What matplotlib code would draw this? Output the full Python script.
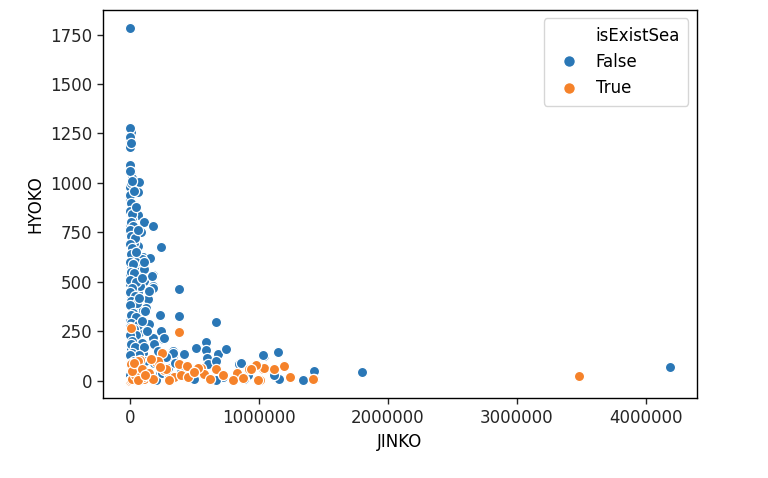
import matplotlib.pyplot as plt
from matplotlib.lines import Line2D

# JINKO / HYOKO for municipalities without sea (isExistSea = False)
JINKO_FALSE = [
    1000, 4185000, 1800000, 1430000, 1340000, 1040000, 1150000, 1120000, 1160000,
    8000, 0, 0, 0, 0, 8000, 15000, 70000, 0, 62000, 0, 15000, 0, 62000, 15000,
    109000, 179000, 0, 85000, 0, 8000, 62000, 241000, 23000, 101000, 155000,
    93000, 8000, 85000, 179000, 8000, 109000, 8000, 179000, 381000, 62000, 8000,
    140000, 31000, 124000, 233000, 381000, 70000, 23000, 148000, 668000, 241000,
    70000, 8000, 179000, 256000, 70000, 186000, 8000, 513000, 591000, 334000,
    591000, 684000, 746000, 101000, 8000, 186000, 334000, 1033000, 412000,
    847000, 8000, 23000, 148000, 490000, 723000, 917000, 862000, 598000, 606000,
    668000, 497000, 668000, 886000, 1119000, 233000, 396000, 295000, 155000,
    420000, 264000, 31000, 109000, 0, 171000, 179000, 78000, 0, 148000, 31000,
    85000, 23000, 0, 70000, 334000,
    3000, 5000, 2000, 10000, 4000, 20000, 6000, 25000, 3000, 12000, 40000, 2000,
    18000, 6000, 45000, 2000, 22000, 10000, 35000, 4000, 50000, 15000, 2000,
    40000, 8000, 55000, 3000, 25000, 5000, 45000, 12000, 60000, 3000, 30000,
    8000, 50000, 2000, 20000, 90000, 5000, 40000, 110000, 15000, 70000, 3000,
    30000, 120000, 6000, 50000, 15000, 80000, 2000, 30000, 100000, 60000, 10000,
    200000, 250000, 300000, 350000, 280000, 220000, 130000, 95000, 115000,
    70000, 90000, 110000, 50000, 60000, 45000, 30000, 20000, 2000, 5000,
]
HYOKO_FALSE = [
    1785, 68, 41, 46, 5, 122, 143, 46, 10,
    1255, 1280, 1219, 1183, 1091, 1056, 1025, 1005, 979, 954, 923, 887, 852, 836, 816,
    801, 780, 775, 750, 745, 709, 683, 678, 658, 627, 622,
    617, 581, 566, 536, 520, 505, 479, 479, 464, 444, 418,
    413, 362, 367, 332, 326, 316, 301, 286, 296, 250,
    240, 214, 214, 209, 189, 184, 158, 163, 194, 148,
    153, 133, 158, 138, 112, 87, 112, 128, 61,
    82, 56, 10, 15, 20, 20, 26, 87, 112, 82,
    97, 10, 5, 10, 26, 31, 41, 61, 20,
    133, 214, 694, 566, 541, 530, 469, 479, 490, 454, 403,
    352, 357, 301, 199, 138,
    1060, 1000, 940, 900, 860, 840, 800, 780, 760, 730, 720, 690,
    670, 640, 600, 600, 590, 550, 545, 510, 500, 470, 450,
    430, 400, 390, 380, 340, 330, 320, 290, 280, 270, 260,
    240, 230, 230, 200, 190, 185, 170, 170, 140, 130, 130,
    100, 100, 90, 70, 60, 40, 30, 30, 5, 10, 5,
    5, 40, 20, 90, 120, 150, 250, 300, 350,
    420, 520, 600, 650, 760, 880, 960, 1010, 1230, 1200,
]

# isExistSea = True
JINKO_TRUE = [
    3480000, 1430000, 1033000, 1196000, 1243000, 1420000, 1010000, 8000, 381000,
    249000, 78000, 8000, 202000, 381000, 264000, 443000, 552000, 668000, 831000,
    924000, 1040000, 979000, 1119000, 342000, 396000, 995000, 801000, 0, 109000,
    575000, 218000, 280000, 529000, 939000, 8000, 101000, 62000,
    20000, 40000, 15000, 60000, 30000, 90000, 150000, 180000, 230000,
    300000, 450000, 500000, 620000, 720000, 880000, 160000, 120000,
]
HYOKO_TRUE = [
    25, 10, 56, 71, 20, 10, 5, 265, 245,
    138, 102, 82, 92, 82, 51, 71, 61, 56, 36,
    56, 64, 77, 56, 20, 26, 5, 5, 0, 10,
    31, 97, 56, 61, 56, 5, 20, 97,
    10, 30, 50, 5, 90, 60, 40, 10, 70,
    5, 20, 45, 10, 30, 15, 110, 30,
]

HUE_TITLE = "isExistSea"
HUE_LABELS = ["False", "True"]
COLORS = ["#2a77b6", "#f5822a"]

plt.rcParams["font.family"] = "DejaVu Sans"
plt.rcParams["font.size"] = 12

fig = plt.figure(figsize=(7.68, 4.78), dpi=100)
ax = fig.add_axes([0.134, 0.167, 0.773, 0.812])

for xs, ys, c in [(JINKO_FALSE, HYOKO_FALSE, COLORS[0]), (JINKO_TRUE, HYOKO_TRUE, COLORS[1])]:
    ax.scatter(xs, ys, s=54, color=c, edgecolor="white", linewidth=0.9)

ax.ticklabel_format(style="plain", axis="x")
ax.set_xticks([0, 1000000, 2000000, 3000000, 4000000])
ax.set_yticks([0, 250, 500, 750, 1000, 1250, 1500, 1750])
ax.tick_params(length=4.4, width=1, labelsize=12, colors="#262626")
for sp in ax.spines.values():
    sp.set_linewidth(1)
ax.set_xlabel("JINKO", fontsize=12)
ax.set_ylabel("HYOKO", fontsize=12)

# old-style seaborn legend: hue title as a first entry
handles = [Line2D([], [], linestyle="none")]
for c in COLORS:
    handles.append(Line2D([], [], linestyle="none", marker="o", markersize=8.5,
                          markerfacecolor=c, markeredgecolor="white"))
ax.legend(handles, [HUE_TITLE] + HUE_LABELS, loc="upper right", fontsize=12,
          handletextpad=0.6, borderpad=0.5)

fig.savefig("out.png", dpi=100)
